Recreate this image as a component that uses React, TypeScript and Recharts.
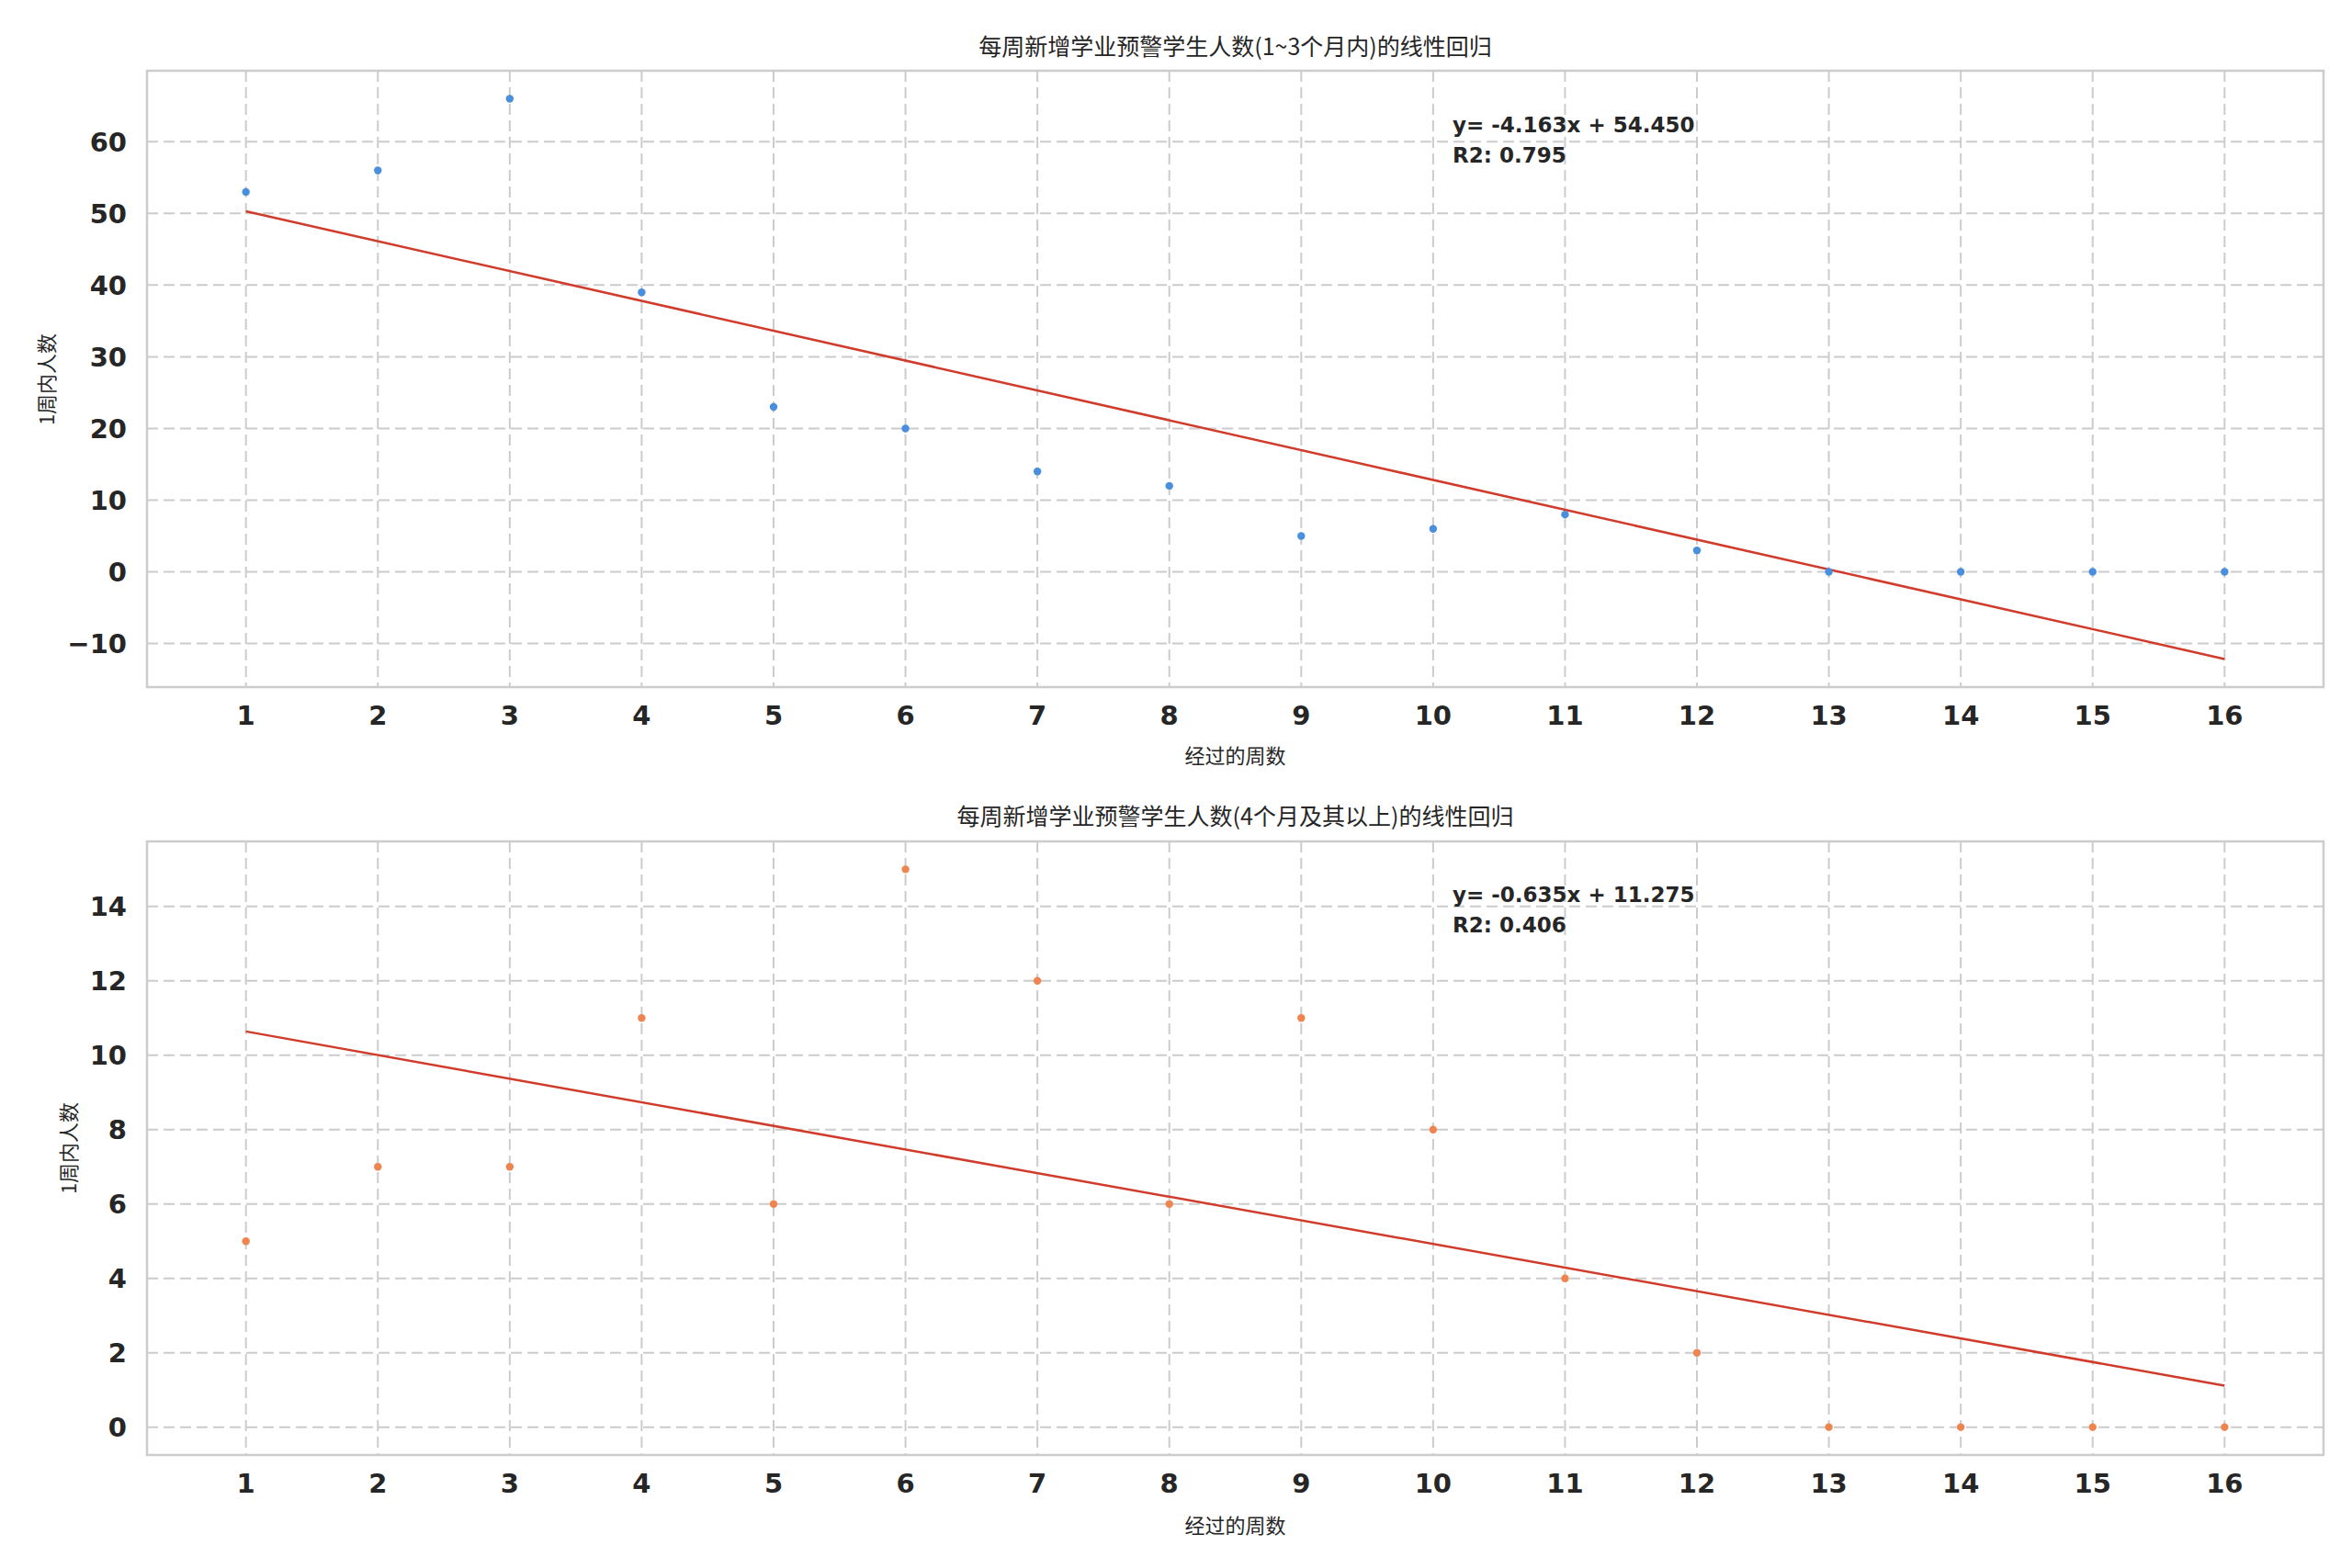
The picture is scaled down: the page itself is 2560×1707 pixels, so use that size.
import React from "react";
import {
  ComposedChart,
  Scatter,
  Line,
  XAxis,
  YAxis,
  CartesianGrid,
  ReferenceArea,
} from "recharts";

// weeks on the x axis
const weeks = [1, 2, 3, 4, 5, 6, 7, 8, 9, 10, 11, 12, 13, 14, 15, 16];

// 1~3 group
const lowerCounts = [53, 56, 66, 39, 23, 20, 14, 12, 5, 6, 8, 3, 0, 0, 0, 0];
const lowerFit = { slope: -4.163, intercept: 54.45, r2: 0.795 };
const lowerTicks = [-10, 0, 10, 20, 30, 40, 50, 60];
const lowerDomain: [number, number] = [-16.07, 69.9];

// 4+ group
const upperCounts = [5, 7, 7, 11, 6, 15, 12, 6, 11, 8, 4, 2, 0, 0, 0, 0];
const upperFit = { slope: -0.635, intercept: 11.275, r2: 0.406 };
const upperTicks = [0, 2, 4, 6, 8, 10, 12, 14];
const upperDomain: [number, number] = [-0.75, 15.75];

const xDomain: [number, number] = [0.25, 16.75];

const titles = [
  "每周新增学业预警学生人数(1~3个月内)的线性回归",
  "每周新增学业预警学生人数(4个月及其以上)的线性回归",
];
const xLabel = "经过的周数";
const yLabel = "1周内人数";

const TEXT = "#262626";
const GRID = "#cccccc";
const CJK = "'Noto Sans CJK SC', 'Noto Sans', sans-serif";
const DEJAVU = "'DejaVu Sans', sans-serif";

const tickStyle = { fontFamily: DEJAVU, fontWeight: 700, fontSize: 29, fill: TEXT };

interface PanelProps {
  counts: number[];
  fit: { slope: number; intercept: number; r2: number };
  ticks: number[];
  domain: [number, number];
  color: string;
  height: number;
  marginTop: number;
  marginBottom: number;
}

function Panel({ counts, fit, ticks, domain, color, height, marginTop, marginBottom }: PanelProps) {
  const points = weeks.map((w, i) => ({ x: w, y: counts[i] }));
  const ends = [weeks[0], weeks[weeks.length - 1]];
  const fitLine = ends.map((w) => ({ x: w, y: fit.slope * w + fit.intercept }));

  return (
    <ComposedChart
      width={2560}
      height={height}
      margin={{ top: marginTop, right: 31, bottom: marginBottom, left: 0 }}
    >
      <CartesianGrid stroke={GRID} strokeDasharray="12 6" strokeWidth={2} />
      <XAxis
        dataKey="x"
        type="number"
        domain={xDomain}
        ticks={weeks}
        allowDataOverflow
        height={60}
        axisLine={false}
        tickLine={false}
        tickSize={0}
        tickMargin={20}
        tick={tickStyle}
      />
      <YAxis
        type="number"
        domain={domain}
        ticks={ticks}
        allowDataOverflow
        width={160}
        axisLine={false}
        tickLine={false}
        tickSize={0}
        tickMargin={22}
        tick={tickStyle}
        tickFormatter={(v: number) => (v < 0 ? `\u2212${Math.abs(v)}` : `${v}`)}
      />
      <ReferenceArea
        x1={xDomain[0]}
        x2={xDomain[1]}
        y1={domain[0]}
        y2={domain[1]}
        fill="none"
        stroke={GRID}
        strokeWidth={2.5}
      />
      <Scatter
        data={points}
        dataKey="y"
        isAnimationActive={false}
        shape={(p: any) => <circle cx={p.cx} cy={p.cy} r={4.2} fill={color} />}
      />
      <Line
        data={fitLine}
        dataKey="y"
        type="linear"
        stroke="#d13b2b"
        strokeWidth={2.5}
        dot={false}
        activeDot={false}
        isAnimationActive={false}
      />
    </ComposedChart>
  );
}

const abs = (style: React.CSSProperties): React.CSSProperties => ({ position: "absolute", ...style });

function Note({ top, fit }: { top: number; fit: { slope: number; intercept: number; r2: number } }) {
  const sign = fit.intercept >= 0 ? "+" : "-";
  return (
    <div
      style={abs({
        left: 1581,
        top,
        fontFamily: DEJAVU,
        fontWeight: 700,
        fontSize: 23,
        lineHeight: "33px",
        color: TEXT,
        whiteSpace: "pre",
      })}
    >
      {`y= ${fit.slope.toFixed(3)}x ${sign} ${Math.abs(fit.intercept).toFixed(3)}`}
      <br />
      {`R2: ${fit.r2.toFixed(3)}`}
    </div>
  );
}

export default function App() {
  const plotCenter = (160 + 2529) / 2;
  return (
    <div style={abs({ left: 0, top: 0, width: 2560, height: 1707, background: "#fff", overflow: "hidden" })}>
      <div style={abs({ left: 0, top: 0 })}>
        <Panel
          counts={lowerCounts}
          fit={lowerFit}
          ticks={lowerTicks}
          domain={lowerDomain}
          color="#4a8ede"
          height={860}
          marginTop={77}
          marginBottom={52}
        />
      </div>
      <div style={abs({ left: 0, top: 860 })}>
        <Panel
          counts={upperCounts}
          fit={upperFit}
          ticks={upperTicks}
          domain={upperDomain}
          color="#ee8550"
          height={847}
          marginTop={56}
          marginBottom={63}
        />
      </div>

      {[49, 887].map((y, i) => (
        <div
          key={`t${i}`}
          style={abs({
            left: plotCenter,
            top: y,
            transform: "translate(-50%, -50%)",
            fontFamily: CJK,
            fontSize: 25,
            color: TEXT,
            whiteSpace: "nowrap",
          })}
        >
          {titles[i]}
        </div>
      ))}

      {[821, 1659].map((y, i) => (
        <div
          key={`x${i}`}
          style={abs({
            left: plotCenter,
            top: y,
            transform: "translate(-50%, -50%)",
            fontFamily: CJK,
            fontSize: 22,
            color: TEXT,
            whiteSpace: "nowrap",
          })}
        >
          {xLabel}
        </div>
      ))}

      {[
        { x: 49, y: (77 + 748) / 2 },
        { x: 73, y: (916 + 1584) / 2 },
      ].map((p, i) => (
        <div
          key={`y${i}`}
          style={abs({
            left: p.x,
            top: p.y,
            transform: "translate(-50%, -50%) rotate(-90deg)",
            fontFamily: CJK,
            fontSize: 22,
            color: TEXT,
            whiteSpace: "nowrap",
          })}
        >
          {yLabel}
        </div>
      ))}

      <Note top={120} fit={lowerFit} />
      <Note top={958} fit={upperFit} />
    </div>
  );
}
